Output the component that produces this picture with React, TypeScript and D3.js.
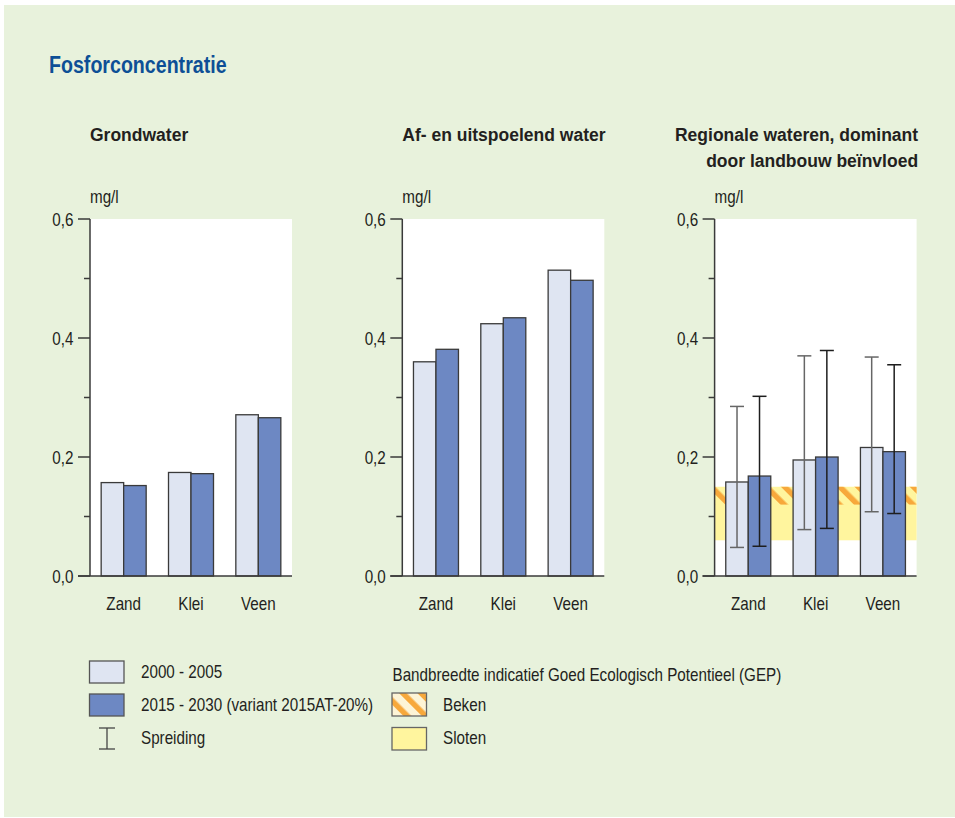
import React, { useEffect, useRef } from "react";
import * as d3 from "d3";

const categories = ["Zand", "Klei", "Veen"];
const seriesNames = ["2000 - 2005", "2015 - 2030 (variant 2015AT-20%)"];
const panelTitles = [["Grondwater"], ["Af- en uitspoelend water"], ["Regionale wateren, dominant", "door landbouw beïnvloed"]];

const grondwater2000 = [0.157, 0.174, 0.271];
const grondwater2015 = [0.152, 0.172, 0.266];
const afspoel2000 = [0.360, 0.424, 0.514];
const afspoel2015 = [0.381, 0.434, 0.497];
const regionaal2000 = [0.158, 0.195, 0.216];
const regionaal2015 = [0.168, 0.200, 0.209];
const regionaal2000Low = [0.048, 0.078, 0.108];
const regionaal2000High = [0.285, 0.370, 0.368];
const regionaal2015Low = [0.050, 0.080, 0.105];
const regionaal2015High = [0.302, 0.379, 0.355];
const slotenBand = [0.06, 0.15];
const bekenBand = [0.12, 0.15];

const majorTicks = [0, 0.2, 0.4, 0.6];
const majorTickLabels = ["0,0", "0,2", "0,4", "0,6"];
const minorTicks = [0.1, 0.3, 0.5];

const LIGHT = "#dfe5f2";
const DARK = "#6d88c3";
const BG = "#e8f2dc";
const ORANGE = "#f7a83b";
const YELLOW = "#fff59e";
const TEXT = "#231f20";
const FONT = "'Liberation Sans', Arial, sans-serif";

export default function App() {
  const ref = useRef<SVGSVGElement>(null);

  useEffect(() => {
    const svg = d3.select(ref.current);
    svg.selectAll("*").remove();

    const defs = svg.append("defs");
    const pat = defs
      .append("pattern")
      .attr("id", "beken")
      .attr("patternUnits", "userSpaceOnUse")
      .attr("width", 13)
      .attr("height", 13)
      .attr("patternTransform", "rotate(-45)");
    pat.append("rect").attr("x", 0).attr("y", 0).attr("width", 5.5).attr("height", 13).attr("fill", ORANGE);

    svg.append("rect").attr("x", 4).attr("y", 5).attr("width", 951).attr("height", 812).attr("fill", BG);

    const narrow = (
      parent: any,
      x: number,
      y: number,
      txt: string,
      size: number,
      anchor: string,
      weight = "normal",
      fill = TEXT,
      sx = 0.845
    ) => {
      parent
        .append("g")
        .attr("transform", `translate(${x},${y}) scale(${sx},1)`)
        .append("text")
        .attr("x", 0)
        .attr("y", 0)
        .attr("text-anchor", anchor)
        .attr("font-family", FONT)
        .attr("font-size", size)
        .attr("font-weight", weight)
        .attr("fill", fill)
        .text(txt);
    };

    // Title
    narrow(svg, 49, 73, "Fosforconcentratie", 23.5, "start", "bold", "#0d4f96", 0.835);

    const y = d3.scaleLinear().domain([0, 0.6]).range([576, 219]);
    const panelX = [90, 402.3, 714.6];
    const plotW = 202;

    const panels = [
      { a: grondwater2000, b: grondwater2015 },
      { a: afspoel2000, b: afspoel2015 },
      {
        a: regionaal2000,
        b: regionaal2015,
        aLow: regionaal2000Low,
        aHigh: regionaal2000High,
        bLow: regionaal2015Low,
        bHigh: regionaal2015High,
      },
    ];

    panels.forEach((p: any, i) => {
      const x0 = panelX[i];
      const g = svg.append("g");
      const xb = d3.scaleBand().domain(categories).range([x0, x0 + plotW]).padding(0);
      const inner = d3.scaleBand().domain(seriesNames).range([0, 45]).padding(0);
      const groupLeft = (c: string) => (xb(c) as number) + (xb.bandwidth() - 45) / 2;

      // subtitle
      const titles = panelTitles[i];
      if (i < 2) {
        g.append("text")
          .attr("x", x0)
          .attr("y", 141)
          .attr("font-family", FONT)
          .attr("font-size", 17.5)
          .attr("font-weight", "bold")
          .attr("fill", TEXT)
          .text(titles[0]);
      } else {
        titles.forEach((t, k) => {
          g.append("text")
            .attr("x", x0 + plotW + 1.5)
            .attr("y", 140.5 + k * 26)
            .attr("text-anchor", "end")
            .attr("font-family", FONT)
            .attr("font-size", 17.5)
            .attr("font-weight", "bold")
            .attr("fill", TEXT)
            .text(t);
        });
      }

      narrow(g, x0, 203, "mg/l", 18, "start");

      // plot background
      g.append("rect").attr("x", x0).attr("y", y(0.6)).attr("width", plotW).attr("height", y(0) - y(0.6)).attr("fill", "#ffffff");

      // bands for regional waters
      if (i === 2) {
        g.append("rect")
          .attr("x", x0)
          .attr("y", y(slotenBand[1]))
          .attr("width", plotW)
          .attr("height", y(slotenBand[0]) - y(slotenBand[1]))
          .attr("fill", YELLOW);
        g.append("rect")
          .attr("x", x0)
          .attr("y", y(bekenBand[1]))
          .attr("width", plotW)
          .attr("height", y(bekenBand[0]) - y(bekenBand[1]))
          .attr("fill", "url(#beken)");
      }

      // bars
      const drawBars = (vals: number[], s: number, fill: string) => {
        g.selectAll(null)
          .data(vals)
          .enter()
          .append("rect")
          .attr("x", (_d, j) => groupLeft(categories[j]) + (inner(seriesNames[s]) as number))
          .attr("y", (d) => y(d))
          .attr("width", inner.bandwidth())
          .attr("height", (d) => y(0) - y(d))
          .attr("fill", fill)
          .attr("stroke", "#3a3a3a")
          .attr("stroke-width", 1.3);
      };
      drawBars(p.a, 0, LIGHT);
      drawBars(p.b, 1, DARK);

      // error bars
      if (p.aLow) {
        const drawErr = (lo: number[], hi: number[], s: number, color: string) => {
          lo.forEach((l, j) => {
            const cx = groupLeft(categories[j]) + (inner(seriesNames[s]) as number) + inner.bandwidth() / 2;
            const eg = g.append("g").attr("stroke", color).attr("stroke-width", 1.5);
            eg.append("line").attr("x1", cx).attr("x2", cx).attr("y1", y(hi[j])).attr("y2", y(l));
            eg.append("line").attr("x1", cx - 7).attr("x2", cx + 7).attr("y1", y(hi[j])).attr("y2", y(hi[j]));
            eg.append("line").attr("x1", cx - 7).attr("x2", cx + 7).attr("y1", y(l)).attr("y2", y(l));
          });
        };
        drawErr(p.aLow, p.aHigh, 0, "#666666");
        drawErr(p.bLow, p.bHigh, 1, "#1e1e1e");
      }

      // axis
      const ax = g.append("g").attr("stroke", "#3a3a3a").attr("stroke-width", 1.5);
      ax.append("line").attr("x1", x0).attr("x2", x0).attr("y1", y(0.6)).attr("y2", y(0));
      ax.append("line").attr("x1", x0 - 12).attr("x2", x0 + plotW).attr("y1", y(0)).attr("y2", y(0));
      majorTicks.forEach((t) => {
        ax.append("line").attr("x1", x0 - 12).attr("x2", x0).attr("y1", y(t)).attr("y2", y(t));
      });
      minorTicks.forEach((t) => {
        ax.append("line").attr("x1", x0 - 6).attr("x2", x0).attr("y1", y(t)).attr("y2", y(t));
      });
      majorTicks.forEach((t, k) => {
        narrow(g, x0 - 16.5, y(t) + 7, majorTickLabels[k], 18, "end");
      });

      categories.forEach((c) => {
        narrow(g, (xb(c) as number) + xb.bandwidth() / 2, 610, c, 18, "middle");
      });
    });

    // Legend
    const lg = svg.append("g");
    lg.append("rect").attr("x", 89.5).attr("y", 661).attr("width", 34.5).attr("height", 22).attr("fill", LIGHT).attr("stroke", "#555").attr("stroke-width", 1.3);
    lg.append("rect").attr("x", 89.5).attr("y", 694).attr("width", 34.5).attr("height", 22).attr("fill", DARK).attr("stroke", "#555").attr("stroke-width", 1.3);
    const sp = lg.append("g").attr("stroke", "#444").attr("stroke-width", 1.3);
    sp.append("line").attr("x1", 107).attr("x2", 107).attr("y1", 728).attr("y2", 749);
    sp.append("line").attr("x1", 99).attr("x2", 115).attr("y1", 728).attr("y2", 728);
    sp.append("line").attr("x1", 99).attr("x2", 115).attr("y1", 749).attr("y2", 749);
    narrow(lg, 141, 678, seriesNames[0], 18, "start");
    narrow(lg, 141, 711, seriesNames[1], 18, "start");
    narrow(lg, 141, 744, "Spreiding", 18, "start");

    narrow(lg, 392.5, 680.5, "Bandbreedte indicatief Goed Ecologisch Potentieel (GEP)", 18, "start");
    lg.append("rect").attr("x", 392).attr("y", 693).attr("width", 34.5).attr("height", 23).attr("fill", "#fdf4d6");
    lg.append("rect").attr("x", 392).attr("y", 693).attr("width", 34.5).attr("height", 23).attr("fill", "url(#beken)").attr("stroke", "#666").attr("stroke-width", 1.3);
    lg.append("rect").attr("x", 392).attr("y", 727.5).attr("width", 34.5).attr("height", 22.5).attr("fill", YELLOW).attr("stroke", "#666").attr("stroke-width", 1.3);
    narrow(lg, 443, 711, "Beken", 18, "start");
    narrow(lg, 443, 744, "Sloten", 18, "start");
  }, []);

  return (
    <svg
      ref={ref}
      width={955}
      height={818}
      style={{ position: "absolute", left: 0, top: 0, display: "block" }}
    />
  );
}
